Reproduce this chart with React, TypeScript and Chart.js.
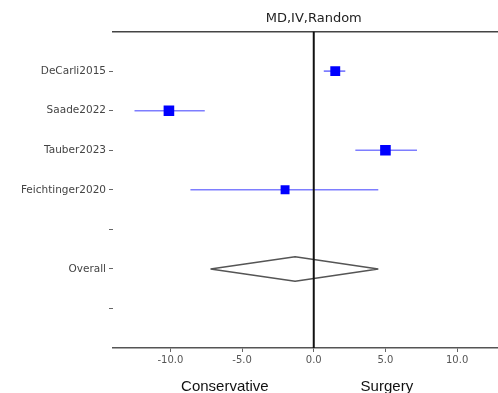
import React, { useEffect, useRef } from "react";
import { Chart, registerables } from "chart.js";

Chart.register(...registerables);

const STUDIES = ["DeCarli2015", "Saade2022", "Tauber2023", "Feichtinger2020"];
const EFFECT = [1.5, -10.1, 5.0, -2.0];
const CI_LOW = [0.7, -12.5, 2.9, -8.6];
const CI_HIGH = [2.2, -7.6, 7.2, 4.5];
const MARKER_RADIUS = [7, 7.5, 7.5, 6.3];
const ROW_LABELS = ["DeCarli2015", "Saade2022", "Tauber2023", "Feichtinger2020", "", "Overall", ""];
const OVERALL_EFFECT = -1.3;
const OVERALL_LOW = -7.2;
const OVERALL_HIGH = 4.5;
const OVERALL_ROW = 5;
const X_TICKS = [-10, -5, 0, 5, 10];
const SIDE_LABELS = ["Conservative", "Surgery"];
const SIDE_LABEL_X = [-6.2, 5.1];
const TITLE = "MD,IV,Random";

const sideLabelsPlugin = {
  id: "sideLabels",
  afterDraw(chart: any) {
    const { ctx } = chart;
    const xs = chart.scales.x;
    ctx.save();
    ctx.font = "15px 'Liberation Sans', Arial, sans-serif";
    ctx.fillStyle = "#111";
    ctx.textAlign = "center";
    ctx.textBaseline = "alphabetic";
    SIDE_LABELS.forEach((t, i) => {
      ctx.fillText(t, xs.getPixelForValue(SIDE_LABEL_X[i]), 390.5);
    });
    ctx.restore();
  },
};

export default function App() {
  const ref = useRef<HTMLCanvasElement | null>(null);
  useEffect(() => {
    document.body.style.margin = "0";
    document.body.style.overflow = "hidden";
    if (!ref.current) return;

    const datasets: any[] = [];
    datasets.push({
      data: STUDIES.map((_, i) => ({ x: EFFECT[i], y: i })),
      pointStyle: "rect",
      pointRadius: MARKER_RADIUS,
      pointHoverRadius: MARKER_RADIUS,
      backgroundColor: "#0000ff",
      borderWidth: 0,
      showLine: false,
      order: 0,
    });
    datasets.push({
      data: [
        { x: 0, y: -1 },
        { x: 0, y: 7 },
      ],
      borderColor: "#111",
      borderWidth: 2,
      pointRadius: 0,
      showLine: true,
      order: 2,
    });
    STUDIES.forEach((_, i) => {
      datasets.push({
        data: [
          { x: CI_LOW[i], y: i },
          { x: CI_HIGH[i], y: i },
        ],
        borderColor: "rgba(40,40,255,0.6)",
        borderWidth: 1.6,
        pointRadius: 0,
        showLine: true,
        order: 3,
      });
    });
    const h = 0.31;
    datasets.push({
      data: [
        { x: OVERALL_LOW, y: OVERALL_ROW },
        { x: OVERALL_EFFECT, y: OVERALL_ROW - h },
        { x: OVERALL_HIGH, y: OVERALL_ROW },
        { x: OVERALL_EFFECT, y: OVERALL_ROW + h },
        { x: OVERALL_LOW, y: OVERALL_ROW },
      ],
      borderColor: "#555",
      borderWidth: 1.5,
      borderJoinStyle: "bevel",
      pointRadius: 0,
      showLine: true,
      tension: 0,
      order: 3,
    });

    const chart = new Chart(ref.current, {
      type: "scatter",
      data: { datasets },
      plugins: [sideLabelsPlugin],
      options: {
        animation: false,
        responsive: true,
        maintainAspectRatio: false,
        layout: { padding: 0 },
        plugins: {
          legend: { display: false },
          tooltip: { enabled: false },
          title: {
            display: true,
            text: TITLE,
            fullSize: false,
            color: "#222",
            font: { family: "'DejaVu Sans', sans-serif", size: 13, weight: "normal", lineHeight: 1.2 },
            padding: { top: 11, bottom: 5 },
          },
        },
        scales: {
          x: {
            type: "linear",
            position: "bottom",
            min: -14,
            max: 14,
            afterBuildTicks: (s: any) => {
              s.ticks = X_TICKS.map((v) => ({ value: v }));
            },
            afterFit: (s: any) => {
              s.height = 45;
            },
            ticks: {
              color: "#555",
              font: { family: "'DejaVu Sans', sans-serif", size: 10 },
              padding: 2.5,
              callback: (v: any) => Number(v).toFixed(1),
            },
            grid: { drawOnChartArea: false, drawTicks: true, tickLength: 4, color: "#666", lineWidth: 1 },
            border: { display: true, color: "#555", width: 1.5 },
          },
          x2: {
            type: "linear",
            position: "top",
            min: -14,
            max: 14,
            ticks: { display: false },
            grid: { display: false, drawTicks: false },
            border: { display: true, color: "#444", width: 1.5 },
          },
          y: {
            type: "linear",
            min: -1,
            max: 7,
            reverse: true,
            afterBuildTicks: (s: any) => {
              s.ticks = ROW_LABELS.map((_, i) => ({ value: i }));
            },
            afterFit: (s: any) => {
              s.width = 113;
            },
            ticks: {
              color: "#444",
              font: { family: "'DejaVu Sans', sans-serif", size: 10.5 },
              padding: 3,
              callback: (v: any) => ROW_LABELS[Math.round(Number(v))] ?? "",
            },
            grid: { drawOnChartArea: false, drawTicks: true, tickLength: 4, color: "#666", lineWidth: 1 },
            border: { display: false },
          },
        },
      },
    });
    return () => chart.destroy();
  }, []);

  return (
    <div style={{ width: 522, height: 393, position: "relative", background: "#fff" }}>
      <canvas ref={ref} />
    </div>
  );
}
